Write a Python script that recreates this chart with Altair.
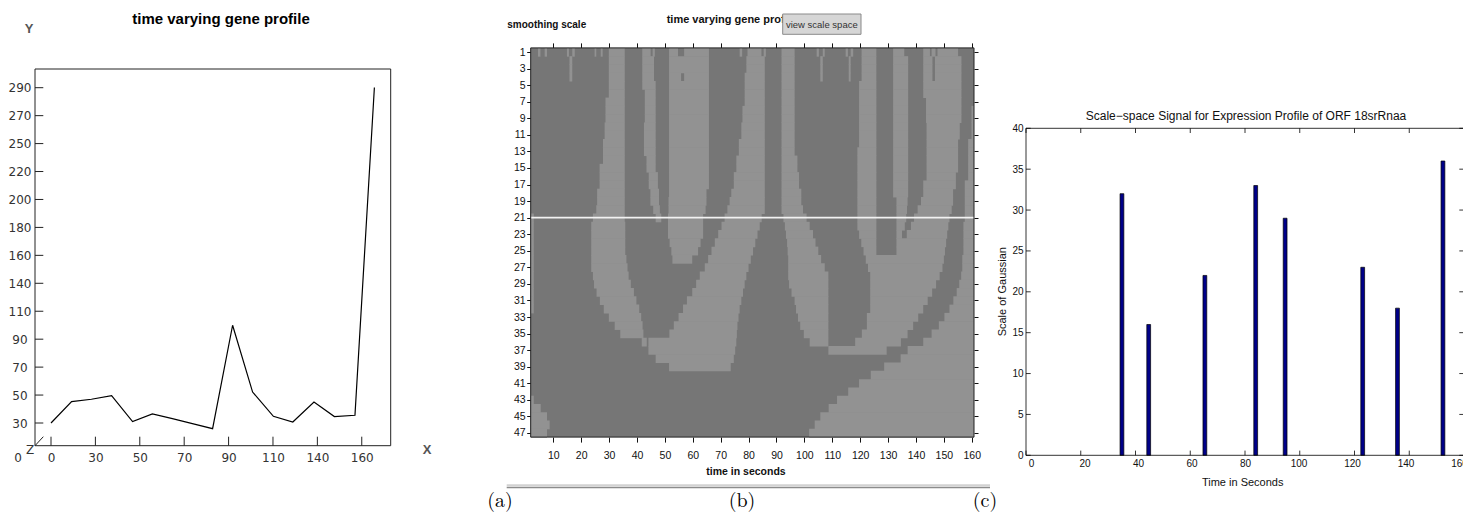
import altair as alt
import pandas as pd

W, H = 1455, 505

# ---------------- panel (a): time varying gene profile ----------------
profile_time = [0, 10.6, 20.8, 31.2, 42.0, 52.2, 62.5, 72.8, 83.2, 93.5,
                103.8, 114.5, 124.5, 135.4, 145.9, 156.5, 166.5]
profile_value = [30, 46.6, 48.4, 51.2, 31.1, 37.0, 33.4, 29.5, 25.6, 105.8,
                 54.0, 35.2, 30.8, 46.3, 35.0, 36.0, 290.1]
a_x_labels = ["0", "30", "50", "70", "90", "110", "140", "160"]
a_y_labels = ["30", "50", "70", "90", "110", "140", "160", "180", "200",
              "220", "250", "270", "290"]

# ---------------- panel (b): binary scale-space image ----------------
scale_rows = list(range(1, 48))
light_runs = [
    [[4.5,5.4],[6.9,7.75],[14.9,15.6],[16.8,17.7],[24.8,25.4],[27.0,27.7],[29.9,35.6],[41.9,44.9],[45.6,46.4],[51.5,54.7],[56.9,65.8],[76.8,77.7],[79.6,84.6],[85.4,86.2],[91.8,96.5],[104.4,105.2],[106.6,107.3],[114.8,115.6],[116.6,117.5],[120.5,125.8],[131.8,135.8],[142.6,145.0],[145.6,147.0],[147.7,155.1]],
    [[15.8,16.8],[29.9,35.6],[41.9,46.1],[51.5,65.8],[79.2,85.8],[91.8,96.5],[105.7,106.6],[115.9,116.6],[120.5,125.8],[131.8,137.2],[142.6,145.9],[146.8,156.3]],
    [[15.8,16.8],[29.9,35.6],[41.9,46.1],[51.5,65.8],[79.2,85.8],[91.8,96.5],[105.7,106.6],[115.9,116.6],[120.5,125.8],[131.8,137.2],[142.6,145.9],[146.8,156.3]],
    [[15.8,16.8],[29.9,35.6],[41.9,46.1],[51.5,55.8],[56.9,65.8],[78.6,85.8],[91.8,96.5],[105.7,106.6],[115.9,116.6],[120.5,125.8],[131.8,137.2],[142.6,145.9],[146.8,156.3]],
    [[29.9,35.6],[41.9,46.7],[51.5,65.8],[78.6,85.8],[91.8,96.5],[119.6,125.8],[131.8,137.2],[142.6,156.3]],
    [[29.9,35.6],[42.8,46.7],[51.5,65.8],[78.6,85.8],[91.8,96.5],[119.6,125.8],[131.8,137.2],[142.6,156.3]],
    [[28.7,35.6],[42.8,46.7],[51.5,65.8],[78.6,85.8],[91.8,96.5],[119.6,125.8],[131.8,137.2],[143.6,156.3]],
    [[28.7,35.6],[42.8,46.7],[51.5,65.8],[77.8,85.8],[91.8,96.5],[119.6,125.8],[131.8,137.2],[143.6,156.3],[159.9,160.8]],
    [[28.7,35.6],[42.8,46.7],[51.5,65.8],[77.8,85.8],[91.8,96.5],[119.6,125.8],[131.8,137.2],[143.6,156.3],[159.9,160.8]],
    [[28.4,35.6],[42.5,46.7],[51.5,65.8],[77.4,85.8],[91.8,96.5],[119.6,125.8],[131.8,137.2],[143.8,155.7],[159.9,160.8]],
    [[28.4,35.6],[42.5,46.7],[51.5,65.8],[77.4,85.8],[91.8,96.5],[119.6,125.8],[131.8,137.2],[143.8,155.7],[159.9,160.8]],
    [[27.8,35.6],[42.5,46.7],[51.5,65.8],[76.5,85.8],[91.8,96.5],[119.6,125.8],[131.8,137.2],[143.8,155.1],[158.7,160.8]],
    [[27.8,35.6],[42.5,46.7],[51.5,65.8],[76.5,85.8],[91.8,96.5],[119.0,125.8],[131.8,137.2],[143.8,155.1],[158.7,160.8]],
    [[27.8,35.6],[43.4,46.7],[51.5,65.8],[75.6,85.8],[91.8,97.5],[119.0,125.8],[131.8,137.2],[143.8,155.1],[158.7,160.8]],
    [[26.6,35.6],[43.4,46.7],[51.5,65.8],[75.6,85.8],[91.8,97.5],[119.0,125.8],[131.8,137.2],[143.8,155.1],[158.7,160.8]],
    [[26.6,35.6],[44.2,47.5],[51.5,65.8],[74.7,85.8],[91.8,98.1],[119.0,125.8],[131.8,137.2],[143.8,154.3],[158.7,160.8]],
    [[26.6,35.6],[44.2,47.5],[51.5,65.8],[74.7,85.8],[91.8,98.1],[119.0,125.8],[131.8,137.2],[142.6,154.3],[157.5,160.8]],
    [[25.7,35.6],[44.8,47.9],[51.5,64.9],[73.8,85.8],[91.8,98.9],[119.0,125.8],[131.8,137.2],[142.6,153.3],[157.5,160.8]],
    [[25.7,35.6],[44.8,47.9],[51.3,64.9],[73.2,85.8],[91.8,98.9],[119.0,125.8],[133.0,137.0],[141.8,153.3],[157.5,160.8]],
    [[25.4,35.6],[45.8,48.2],[51.3,64.6],[72.4,85.8],[91.8,99.5],[119.0,125.8],[133.0,136.8],[140.6,152.8],[157.5,160.8]],
    [[1.9,3.0],[24.2,35.6],[46.7,48.7],[51.1,63.7],[71.4,84.7],[92.5,100.8],[119.0,125.8],[133.0,136.5],[139.3,152.0],[157.5,160.8]],
    [[1.9,3.0],[23.6,35.8],[51.1,63.7],[70.3,84.0],[93.0,101.9],[119.0,125.8],[133.0,136.0],[138.2,151.6],[157.0,160.8]],
    [[1.9,3.0],[23.6,35.8],[51.1,63.7],[69.1,83.2],[93.4,103.1],[119.6,125.8],[133.0,135.0],[136.7,151.2],[157.0,160.8]],
    [[1.9,3.0],[23.6,35.8],[51.7,62.8],[67.9,82.4],[93.8,104.0],[120.4,125.8],[133.0,150.8],[157.0,160.8]],
    [[1.9,3.0],[23.6,35.8],[52.3,61.9],[66.7,81.6],[94.0,105.0],[121.2,125.8],[133.0,150.4],[157.0,160.8]],
    [[1.9,3.0],[23.6,36.2],[52.7,59.8],[65.5,80.8],[94.2,106.0],[122.0,150.0],[156.6,160.8]],
    [[1.9,3.0],[23.6,36.6],[64.3,80.0],[94.2,107.3],[122.8,149.5],[156.6,160.8]],
    [[1.9,3.0],[24.2,37.0],[62.5,79.2],[94.2,108.6],[123.6,148.5],[156.2,160.8]],
    [[1.9,3.0],[24.6,37.8],[61.2,78.6],[94.5,108.6],[123.6,147.2],[155.5,160.8]],
    [[1.9,3.0],[25.5,38.9],[59.8,78.0],[95.4,108.6],[123.6,145.8],[154.6,160.8]],
    [[1.9,3.0],[26.7,39.8],[57.9,77.4],[96.5,108.6],[123.6,144.2],[153.4,160.8]],
    [[1.9,3.0],[28.1,40.8],[56.5,76.8],[97.0,108.6],[123.6,142.6],[152.0,160.8]],
    [[29.9,41.5],[54.9,76.4],[97.7,108.6],[122.4,140.8],[150.2,160.8]],
    [[32.0,42.0],[53.2,76.0],[98.5,108.6],[122.4,139.0],[148.2,160.8]],
    [[34.0,42.3],[51.6,75.8],[99.8,108.6],[120.6,137.0],[145.6,160.8]],
    [[41.7,43.5],[44.1,75.6],[101.9,108.6],[118.2,134.6],[142.6,160.8]],
    [[44.1,75.2],[108.6,129.5],[137.0,160.8]],
    [[46.7,74.7],[134.5,160.8]],
    [[51.5,73.6],[128.6,160.8]],
    [[123.8,160.8]],
    [[119.6,160.8]],
    [[115.7,160.8]],
    [[1.9,3.0],[111.7,160.8]],
    [[1.9,5.5],[108.7,160.8]],
    [[1.9,7.75],[105.7,160.8]],
    [[1.9,8.7],[103.7,160.8]],
    [[1.9,7.75],[101.7,160.8]],
]
b_time_ticks = list(range(10, 161, 10))
b_scale_ticks = list(range(1, 48, 2))
selected_scale = 21

# ---------------- panel (c): scale-space signal ----------------
peak_time = [34, 44, 65, 84, 95, 124, 137, 154]
peak_scale = [32, 16, 22, 33, 29, 23, 18, 36]
c_x_ticks = list(range(0, 161, 20))
c_y_ticks = list(range(0, 41, 5))

# ---------------- fonts / colours ----------------
NARROW = "Liberation Sans, Arial, sans-serif"
SANS = "Liberation Sans, Arial, sans-serif"
LIGHT, DARK = "#929292", "#767676"


def text(t, x, y, size, font, weight="normal", color="#000000", align="center", angle=0):
    return alt.Chart(pd.DataFrame({"t": [t]})).mark_text(
        align=align, baseline="middle", font=font, fontSize=size,
        fontWeight=weight, color=color, angle=angle
    ).encode(x=alt.value(x), y=alt.value(y), text="t:N")


def lookup_expr(labels, scale_expr):
    arr = "[" + ",".join("'" + s + "'" for s in labels) + "]"
    return arr + "[round(" + scale_expr + ")]"


layers = []

# ======================= panel (a) =======================
xa = alt.Scale(domain=[-8.24, 174.9], range=[27, 382.7], nice=False, zero=False)
ya = alt.Scale(domain=[12.4, 304.5], range=[437.7, 61], nice=False, zero=False)
a_xt = [160 * k / 7 for k in range(len(a_x_labels))]
a_yt = [30 + 260 * k / 12 for k in range(len(a_y_labels))]

df_a = pd.DataFrame({"time": profile_time, "value": profile_value})
layers.append(alt.Chart(df_a).mark_line(color="#000000", strokeWidth=1.2).encode(
    x=alt.X("time:Q", scale=xa, axis=alt.Axis(
        orient="bottom", offset=437.7 - H, values=a_xt,
        labelExpr=lookup_expr(a_x_labels, "datum.value*7/160"),
        ticks=False, tickSize=0, domain=False, grid=False, labelPadding=12,
        labelBaseline="middle", labelFont="DejaVu Sans", labelFontSize=12,
        labelColor="#333333", labelFlush=False, labelOverlap=False, title=None)),
    y=alt.Y("value:Q", scale=ya, axis=alt.Axis(
        orient="left", offset=-27, values=a_yt,
        labelExpr=lookup_expr(a_y_labels, "(datum.value-30)*12/260"),
        ticks=False, tickSize=0, domain=False, grid=False, labelPadding=15.5,
        labelAlign="center", labelBaseline="middle", labelFont="DejaVu Sans",
        labelFontSize=12, labelColor="#333333", labelOverlap=False, title=None)),
))

frame_a = pd.DataFrame({"x0": [-8.24], "x1": [174.9], "y0": [12.4], "y1": [304.5]})
layers.append(alt.Chart(frame_a).mark_rect(filled=False, color="#222222", strokeWidth=1).encode(
    x=alt.X("x0:Q", scale=xa, axis=None), x2="x1",
    y=alt.Y("y0:Q", scale=ya, axis=None), y2="y1"))

tx_len, ty_len = 9 / 1.2896, 8.3 / 1.9422
seg_a = pd.DataFrame(
    [{"x": v, "x2": v, "y": 12.4, "y2": 12.4 + tx_len} for v in a_xt] +
    [{"x": -8.24, "x2": -8.24 + ty_len, "y": v, "y2": v} for v in a_yt] +
    [{"x": -8.24, "x2": -8.24 + ty_len, "y": 12.4, "y2": 12.4 + tx_len}])
layers.append(alt.Chart(seg_a).mark_rule(color="#222222", strokeWidth=1).encode(
    x=alt.X("x:Q", scale=xa, axis=None), x2="x2",
    y=alt.Y("y:Q", scale=ya, axis=None), y2="y2"))

layers += [
    text("time varying gene profile", 213, 11, 15, SANS, "bold"),
    text("Y", 21, 21, 13, SANS, "bold", "#555555"),
    text("X", 419, 442, 13, SANS, "bold", "#555555"),
    text("Z", 22, 442, 12, "DejaVu Sans", "normal", "#333333"),
    text("0", 10, 450, 12, "DejaVu Sans", "normal", "#333333"),
]

# ======================= panel (b) =======================
xb = alt.Scale(domain=[1.9, 160.8], range=[522.7, 966.0], nice=False, zero=False)
yb = alt.Scale(domain=[0.5, 47.5], range=[39.9, 429.1], nice=False, zero=False)

bg_b = pd.DataFrame({"x0": [1.9], "x1": [160.8], "y0": [0.5], "y1": [47.5]})
layers.append(alt.Chart(bg_b).mark_rect(color=DARK).encode(
    x=alt.X("x0:Q", scale=xb, axis=alt.Axis(
        orient="bottom", offset=429.1 - H, values=b_time_ticks, ticks=True,
        tickSize=5, tickColor="#111111", domain=False, grid=False,
        labelPadding=13, labelBaseline="middle", labelFont=NARROW,
        labelFontSize=10.5, labelColor="#111111", labelFlush=False,
        labelOverlap=False, title=None)),
    x2="x1",
    y=alt.Y("y0:Q", scale=yb, axis=alt.Axis(
        orient="left", offset=-522.7, values=b_scale_ticks, ticks=True,
        tickSize=4, tickColor="#111111", domain=False, grid=False,
        labelPadding=1.5, labelBaseline="middle", labelFont=NARROW,
        labelFontSize=10.5, labelColor="#111111", labelOverlap=False, title=None)),
    y2="y1"))

runs = [{"a": a, "b": b, "y0": s - 0.5, "y1": s + 0.56}
        for s, row in zip(scale_rows, light_runs) for a, b in row]
df_runs = pd.DataFrame(runs)
layers.append(alt.Chart(df_runs).mark_rect(color=LIGHT).encode(
    x=alt.X("a:Q", scale=xb, axis=alt.Axis(
        orient="top", offset=-39.9, values=b_time_ticks, labels=False,
        ticks=True, tickSize=5, tickColor="#111111", domain=False,
        grid=False, title=None)),
    x2="b",
    y=alt.Y("y0:Q", scale=yb, axis=alt.Axis(
        orient="right", offset=-(W - 966.0), values=b_scale_ticks,
        labels=False, ticks=True, tickSize=4, tickColor="#111111",
        domain=False, grid=False, title=None)),
    y2="y1"))

sel_b = pd.DataFrame({"x0": [1.9], "x1": [160.8], "s": [selected_scale]})
layers.append(alt.Chart(sel_b).mark_rule(color="#f2f2f2", strokeWidth=1.6).encode(
    x=alt.X("x0:Q", scale=xb, axis=None), x2="x1",
    y=alt.Y("s:Q", scale=yb, axis=None)))

layers.append(alt.Chart(bg_b).mark_rect(filled=False, color="#222222", strokeWidth=1).encode(
    x=alt.X("x0:Q", scale=xb, axis=None), x2="x1",
    y=alt.Y("y0:Q", scale=yb, axis=None), y2="y1"))

one = pd.DataFrame({"k": [0]})
layers += [
    text("smoothing scale", 499.3, 17, 10, NARROW, "bold", "#111111", "left"),
    text("time varying gene profile", 658.7, 12, 11, NARROW, "bold", "#111111", "left"),
    alt.Chart(one).mark_rect(fill="#d6d6d6", stroke="#8a8a8a", strokeWidth=1).encode(
        x=alt.value(774.7), x2=alt.value(853), y=alt.value(6), y2=alt.value(26.3)),
    text("view scale space", 813.8, 16.5, 9.5, NARROW, "normal", "#333333"),
    text("time in seconds", 738, 464, 10.5, NARROW, "bold", "#111111"),
    alt.Chart(one).mark_rule(color="#d2d2d2", strokeWidth=2).encode(
        x=alt.value(498.7), x2=alt.value(982), y=alt.value(477.2)),
    alt.Chart(one).mark_rule(color="#8c8c8c", strokeWidth=1.5).encode(
        x=alt.value(498.7), x2=alt.value(982), y=alt.value(479.4)),
]

# ======================= panel (c) =======================
xc = alt.Scale(domain=[0, 160], range=[1018, 1456], nice=False, zero=False)
yc = alt.Scale(domain=[0, 40], range=[447.3, 120.3], nice=False, zero=False)

df_c = pd.DataFrame({"time": peak_time, "scale": peak_scale})
layers.append(alt.Chart(df_c).mark_bar(size=3.8, color="#000088", stroke="#000000", strokeWidth=0.7).encode(
    x=alt.X("time:Q", scale=xc, axis=alt.Axis(
        orient="bottom", offset=447.3 - H, values=c_x_ticks, ticks=False,
        tickSize=0, domain=False, grid=False, labelPadding=8.5,
        labelBaseline="middle", labelFont=SANS, labelFontSize=10,
        labelColor="#111111", labelFlush=False, labelOverlap=False, title=None)),
    y=alt.Y("scale:Q", scale=yc, axis=alt.Axis(
        orient="left", offset=-1018, values=c_y_ticks, ticks=False,
        tickSize=0, domain=False, grid=False, labelPadding=3,
        labelAlign="right", labelBaseline="middle", labelFont=SANS,
        labelFontSize=10, labelColor="#111111", labelOverlap=False, title=None)),
))

frame_c = pd.DataFrame({"x0": [0], "x1": [160], "y0": [0], "y1": [40]})
layers.append(alt.Chart(frame_c).mark_rect(filled=False, color="#000000", strokeWidth=0.8).encode(
    x=alt.X("x0:Q", scale=xc, axis=None), x2="x1",
    y=alt.Y("y0:Q", scale=yc, axis=None), y2="y1"))

cy_len, cx_len = 4.7 / 8.175, 4.7 / 2.7375
seg_c = pd.DataFrame(
    [{"x": v, "x2": v, "y": 0, "y2": cy_len} for v in c_x_ticks] +
    [{"x": v, "x2": v, "y": 40, "y2": 40 - cy_len} for v in c_x_ticks] +
    [{"x": 0, "x2": cx_len, "y": v, "y2": v} for v in c_y_ticks] +
    [{"x": 160, "x2": 160 - cx_len, "y": v, "y2": v} for v in c_y_ticks])
layers.append(alt.Chart(seg_c).mark_rule(color="#000000", strokeWidth=0.8).encode(
    x=alt.X("x:Q", scale=xc, axis=None), x2="x2",
    y=alt.Y("y:Q", scale=yc, axis=None), y2="y2"))

layers += [
    text("Scale\u2212space Signal for Expression Profile of ORF 18srRnaa", 1238, 108, 12, SANS, "normal", "#111111"),
    text("Time in Seconds", 1234.7, 474.7, 11, SANS, "normal", "#111111"),
    text("Scale of Gaussian", 995, 283.7, 11, SANS, "normal", "#111111", "center", 270),
]

# ======================= sub-figure labels =======================
SERIF = "Latin Modern Roman, Liberation Serif, DejaVu Serif, serif"
layers += [
    text("(a)", 492, 493, 20, SERIF),
    text("(b)", 734, 493, 20, SERIF),
    text("(c)", 977, 493, 20, SERIF),
]

chart = alt.layer(*layers).resolve_scale(
    x="independent", y="independent"
).properties(
    width=W, height=H, padding=0, autosize=alt.AutoSizeParams(type="none")
).configure_view(strokeWidth=0)

chart.save("out.html", embed_options={"renderer": "svg", "actions": False})
